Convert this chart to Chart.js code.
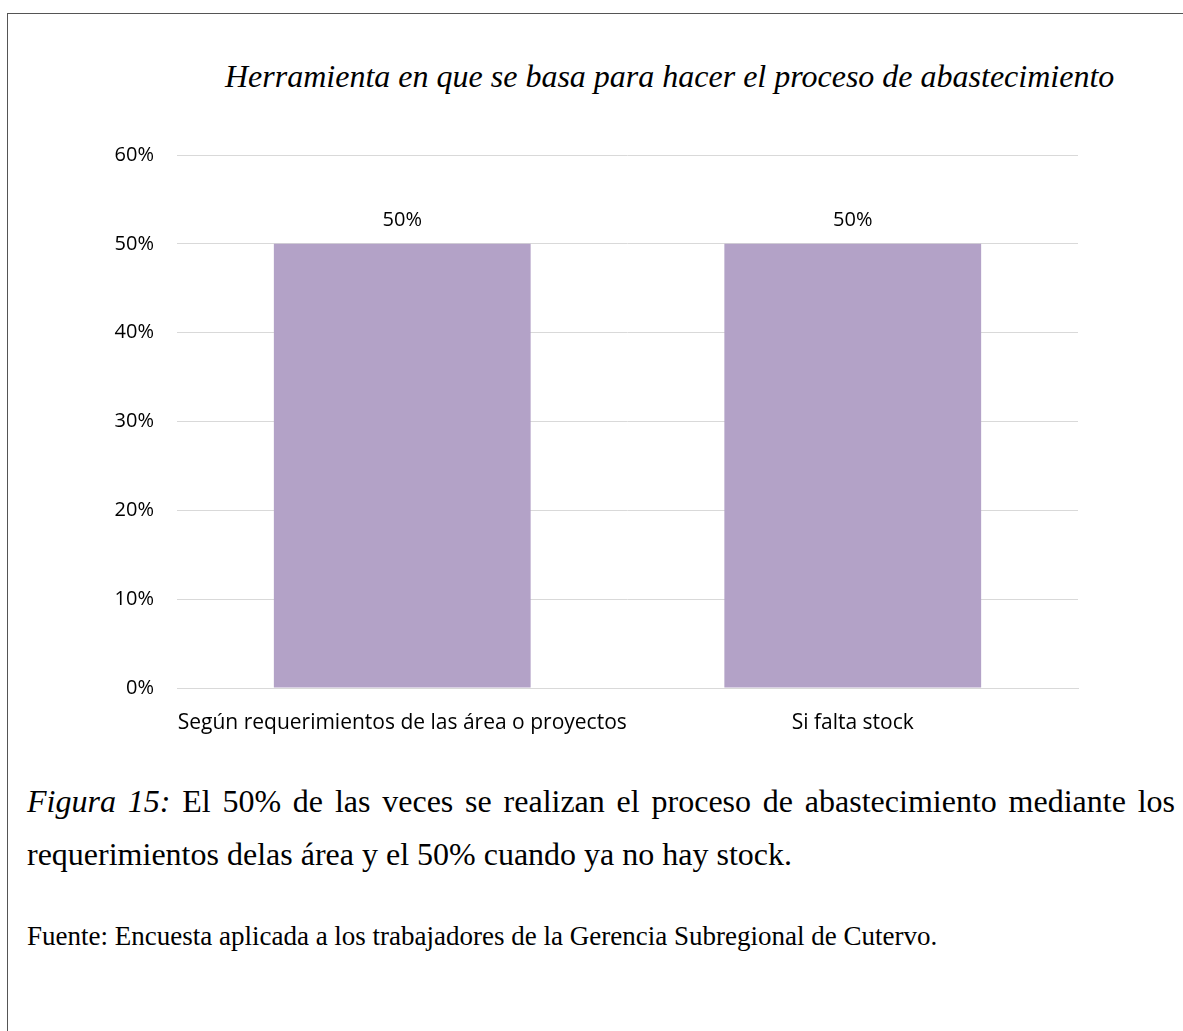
<!DOCTYPE html>
<html>
<head>
<meta charset="utf-8">
<script src="https://cdn.jsdelivr.net/npm/chart.js@4.4.0/dist/chart.umd.min.js"></script>
<style>
  html, body { margin: 0; padding: 0; background: #fff; }
  body { width: 1183px; height: 1031px; position: relative; overflow: hidden; }
  .frame { position: absolute; left: 7px; top: 13px; right: -5px; bottom: -5px; border-top: 1px solid #555; border-left: 1px solid #555; }
  .title { position: absolute; left: 225px; top: 58px; font: italic 32px "Liberation Serif", serif; line-height: 36px; color: #000; white-space: nowrap; }
  #wrap { position: absolute; left: 0; top: 0; width: 1183px; height: 760px; }
  .caption { position: absolute; left: 27px; width: 1148px; top: 775px; font: 32px "Liberation Serif", serif; line-height: 53px; text-align: justify; color: #000; }
  .source { position: absolute; left: 27px; top: 921px; font: 27px "Liberation Serif", serif; line-height: 30px; color: #000; white-space: nowrap; }
</style>
</head>
<body>
<div class="frame"></div>
<div class="title">Herramienta en que se basa para hacer el proceso de abastecimiento</div>
<div id="wrap"><canvas id="chart"></canvas></div>
<div class="caption"><i>Figura 15:</i> El 50% de las veces se realizan el proceso de abastecimiento mediante los requerimientos delas área y el 50% cuando ya no hay stock.</div>
<div class="source">Fuente: Encuesta aplicada a los trabajadores de la Gerencia Subregional de Cutervo.</div>
<script>
const categories = ['Según requerimientos de las área o proyectos', 'Si falta stock'];
const values = [50, 50];
const yTicks = [0, 10, 20, 30, 40, 50, 60];

const barLabels = {
  id: 'barLabels',
  afterDatasetsDraw(chart) {
    const { ctx } = chart;
    const meta = chart.getDatasetMeta(0);
    ctx.save();
    ctx.fillStyle = '#000';
    ctx.font = '20px "Open Sans", sans-serif';
    ctx.textAlign = 'center';
    ctx.textBaseline = 'middle';
    meta.data.forEach((bar, i) => {
      ctx.fillText(values[i] + '%', bar.x, bar.y - 24);
    });
    ctx.restore();
  },
};

new Chart(document.getElementById('chart'), {
  type: 'bar',
  data: {
    labels: categories,
    datasets: [
      {
        data: values,
        backgroundColor: '#b3a2c7',
        categoryPercentage: 1,
        barPercentage: 0.57,
      },
    ],
  },
  options: {
    responsive: true,
    maintainAspectRatio: false,
    animation: false,
    layout: {
      padding: { left: 80, right: 105, top: 155, bottom: 22 },
    },
    plugins: {
      legend: { display: false },
      tooltip: { enabled: false },
      title: { display: false },
    },
    scales: {
      x: {
        grid: { display: false, drawTicks: false },
        border: { color: '#d9d9d9' },
        ticks: {
          color: '#000',
          padding: 22,
          autoSkip: false,
          font: { family: '"Open Sans", sans-serif', size: 21 },
          maxRotation: 0,
          minRotation: 0,
        },
        afterFit(scale) { scale.height = 50; },
      },
      y: {
        min: 0,
        max: 60,
        afterBuildTicks(scale) { scale.ticks = yTicks.map((v) => ({ value: v })); },
        grid: { color: '#d9d9d9', drawTicks: false },
        border: { display: false },
        ticks: {
          color: '#000',
          padding: 23,
          font: { family: '"Open Sans", sans-serif', size: 20 },
          callback: (v) => v + '%',
        },
        afterFit(scale) { scale.width = 97; },
      },
    },
  },
  plugins: [barLabels],
});
</script>
</body>
</html>
